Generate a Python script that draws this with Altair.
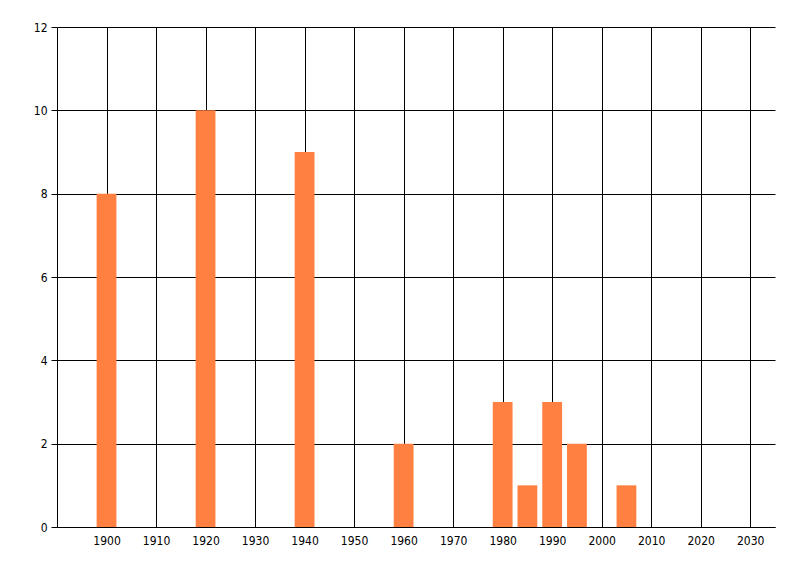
"""Bar chart of counts per year, drawn with Altair."""

import altair as alt
import pandas as pd

# values
years = [1900, 1920, 1940, 1960, 1980, 1985, 1990, 1995, 2005]
counts = [8, 10, 9, 2, 3, 1, 3, 2, 1]
x_ticks = list(range(1900, 2031, 10))
y_ticks = [0, 2, 4, 6, 8, 10, 12]

BAR_HALF_WIDTH = 2  # bars are about four years wide
FONT = "Liberation Sans Narrow, DejaVu Sans Condensed, sans-serif"


def build_chart():
    df = pd.DataFrame({"year": years, "count": counts})

    chart = (
        alt.Chart(df)
        .transform_calculate(
            start=f"datum.year - {BAR_HALF_WIDTH}",
            end=f"datum.year + {BAR_HALF_WIDTH}",
        )
        .mark_rect(color="#FF8040")
        .encode(
            x=alt.X(
                "start:Q",
                title=None,
                scale=alt.Scale(domain=[1890, 2035], nice=False, zero=False),
                axis=alt.Axis(
                    values=x_ticks,
                    format="d",
                    ticks=False,
                    labelPadding=8,
                    grid=True,
                ),
            ),
            x2="end:Q",
            y=alt.Y(
                "count:Q",
                title=None,
                scale=alt.Scale(domain=[0, 12], nice=False),
                axis=alt.Axis(
                    values=y_ticks,
                    tickSize=6,
                    tickColor="black",
                    labelPadding=4,
                    grid=True,
                ),
            ),
            y2=alt.datum(0),
        )
        .properties(
            width=718,
            height=500,
            autosize=alt.AutoSizeParams(type="none"),
            padding={"left": 49, "top": 19, "right": 17, "bottom": 41},
        )
        .configure_view(stroke=None)
        .configure_axis(
            domainColor="black",
            gridColor="black",
            gridOpacity=1,
            gridWidth=1,
            labelFont=FONT,
            labelFontSize=12,
            labelColor="black",
        )
    )
    return chart


def main():
    chart = build_chart()
    chart.save("out.html", embed_options={"renderer": "svg", "actions": False})


if __name__ == "__main__":
    main()
